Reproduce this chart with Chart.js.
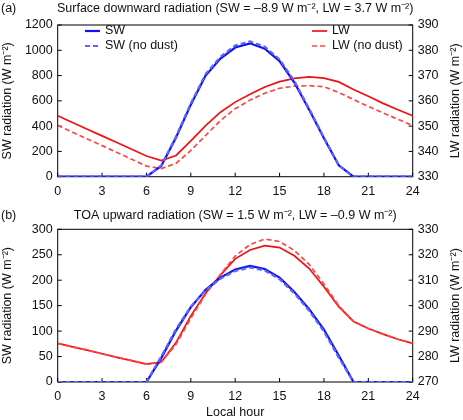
<!DOCTYPE html>
<html><head><meta charset="utf-8">
<script src="https://cdn.jsdelivr.net/npm/chart.js@4"></script>
<style>
html,body{margin:0;padding:0;background:#fff;overflow:hidden}
#c1{position:absolute;left:0;top:0}
#c2{position:absolute;left:0;top:200px}
</style></head><body>
<canvas id="c1" width="463" height="200"></canvas>
<canvas id="c2" width="463" height="220"></canvas>
<script>
const hours = [0,1,2,3,4,5,6,7,8,9,10,11,12,13,14,15,16,17,18,19,20,21,22,23,24];
// (a) Surface downward radiation
const sfcSW       = [0,0,0,0,0,0,0,85,310,570,800,935,1022,1055,1012,915,745,530,305,90,0,0,0,0,0];
const sfcSWnoDust = [0,0,0,0,0,0,0,88,318,580,812,948,1038,1070,1028,928,756,538,310,92,0,0,0,0,0];
const sfcLW       = [354.1,351.45,348.8,346.15,343.5,340.85,338.2,336.4,338.4,344.2,350.2,355.5,359.5,362.6,365.5,367.6,368.9,369.5,369.0,367.5,364.5,361.8,359.0,356.5,354.1];
const sfcLWnoDust = [350.3,347.6,344.9,342.3,339.6,336.9,334.2,333.2,335.3,340.4,346.3,352.2,356.9,360.3,363.0,365.0,365.8,366.0,365.6,363.3,360.5,357.8,355.2,352.7,350.2];
// (b) TOA upward radiation
const toaSW       = [0,0,0,0,0,0,0,47,101,147,181,205,221,228,222,205,177,143,103,52,0,0,0,0,0];
const toaSWnoDust = [0,0,0,0,0,0,0,50,104,148,180,203,218,225,219,202,174,140,99,48,0,0,0,0,0];
const toaLW       = [285.2,283.8,282.5,281.1,279.7,278.4,277.0,277.8,285.5,296.0,304.9,312.0,318.4,321.9,323.6,322.8,319.6,314.6,307.4,299.6,293.8,291.0,288.8,286.8,285.2];
const toaLWnoDust = [285.2,283.8,282.5,281.1,279.7,278.4,277.0,277.8,284.8,295.0,304.5,312.2,319.5,324.0,326.2,325.2,321.7,316.2,308.5,300.0,293.8,291.0,288.8,286.8,285.2];

const hourTicks = [0,3,6,9,12,15,18,21,24];
const sfcSWTicks = [0,200,400,600,800,1000,1200];
const sfcLWTicks = [330,340,350,360,370,380,390];
const toaSWTicks = [0,50,100,150,200,250,300];
const toaLWTicks = [270,280,290,300,310,320,330];

const legendLabels = ['SW','SW (no dust)','LW','LW (no dust)'];

const BLUE='#1212ee', BLUE_D='#5a66ff', RED='#f01212', RED_D='#ff4646';
const FONT='"Liberation Sans", Arial, Helvetica, sans-serif';
const FS=12.5;

function pts(arr){ return hours.map((h,i)=>({x:h,y:arr[i]})); }

function ds(label, arr, color, dashed, axis, width){
  return {label, data:pts(arr), borderColor:color, backgroundColor:color,
    borderWidth:width, borderDash: dashed?[5,3]:[], pointRadius:0, tension:0,
    yAxisID:axis, fill:false};
}

function decor(cfg){
  return {
    id:'decor',
    beforeDatasetsDraw(chart){
      const {ctx, chartArea:a, scales} = chart;
      ctx.save();
      ctx.strokeStyle='#000'; ctx.lineWidth=1;
      ctx.strokeRect(a.left, a.top, a.right-a.left, a.bottom-a.top);
      ctx.beginPath();
      scales.x.ticks.forEach(t=>{const p=scales.x.getPixelForValue(t.value); ctx.moveTo(p,a.bottom); ctx.lineTo(p,a.bottom-4);});
      scales.y.ticks.forEach(t=>{const p=scales.y.getPixelForValue(t.value); ctx.moveTo(a.left,p); ctx.lineTo(a.left+4,p);});
      scales.y1.ticks.forEach(t=>{const p=scales.y1.getPixelForValue(t.value); ctx.moveTo(a.right,p); ctx.lineTo(a.right-4,p);});
      ctx.stroke();
      ctx.restore();
    },
    afterDraw(chart){
      const {ctx, chartArea:a} = chart;
      ctx.save();
      ctx.fillStyle='#111';
      ctx.font=FS+'px '+FONT;
      ctx.textBaseline='middle';
      ctx.textAlign='left';
      ctx.fillText(cfg.panel, 1, cfg.titleY);
      ctx.textAlign='center';
      ctx.fillText(cfg.title, (a.left+a.right)/2+cfg.titleDX, cfg.titleY);
      const mid=(a.top+a.bottom)/2;
      ctx.save(); ctx.translate(8, mid); ctx.rotate(-Math.PI/2); ctx.fillText(cfg.leftTitle,0,0); ctx.restore();
      ctx.save(); ctx.translate(456, mid); ctx.rotate(-Math.PI/2); ctx.fillText(cfg.rightTitle,0,0); ctx.restore();
      if(cfg.xTitle){ ctx.fillText(cfg.xTitle, (a.left+a.right)/2, cfg.xTitleY); }
      if(cfg.legend){
        const items=[
          {x:85,y:31,c:BLUE,d:false,w:2.2,t:legendLabels[0]},
          {x:85,y:46,c:BLUE_D,d:true,w:2.2,t:legendLabels[1]},
          {x:312,y:31,c:RED,d:false,w:1.7,t:legendLabels[2]},
          {x:312,y:46,c:RED_D,d:true,w:1.7,t:legendLabels[3]}];
        items.forEach(it=>{
          ctx.save(); ctx.strokeStyle=it.c; ctx.lineWidth=it.w; ctx.setLineDash(it.d?[5,3]:[]);
          ctx.beginPath(); ctx.moveTo(it.x,it.y); ctx.lineTo(it.x+15,it.y); ctx.stroke(); ctx.restore();
          ctx.textAlign='left'; ctx.fillStyle='#111'; ctx.fillText(it.t, it.x+20, it.y);
        });
      }
      ctx.restore();
    }
  };
}

const plain = v => String(v);

function makeChart(id, sets, yMin, yMax, y1Min, y1Max, padTop, xHeight, cfg){
  return new Chart(document.getElementById(id), {
    type:'line',
    data:{datasets:sets},
    options:{
      responsive:false, animation:false,
      layout:{padding:{top:padTop,left:0,right:0,bottom:0}},
      plugins:{legend:{display:false}, tooltip:{enabled:false}, title:{display:false}},
      scales:{
        x:{type:'linear', min:0, max:24,
          afterBuildTicks(s){ s.ticks = hourTicks.map(v=>({value:v})); },
          ticks:{color:'#111', font:{family:FONT,size:FS}, padding:7, maxRotation:0, autoSkip:false, callback:plain},
          grid:{display:false, drawTicks:false}, border:{display:false},
          afterFit(s){ s.height = xHeight; }},
        y:{position:'left', min:yMin, max:yMax,
          afterBuildTicks(s){ s.ticks = cfg.yTicks.map(v=>({value:v})); },
          ticks:{color:'#111', font:{family:FONT,size:FS}, padding:5, callback:plain},
          grid:{display:false, drawTicks:false}, border:{display:false},
          afterFit(s){ s.width = 57.7; }},
        y1:{position:'right', min:y1Min, max:y1Max,
          afterBuildTicks(s){ s.ticks = cfg.y1Ticks.map(v=>({value:v})); },
          ticks:{color:'#111', font:{family:FONT,size:FS}, padding:5, callback:plain},
          grid:{display:false, drawTicks:false}, border:{display:false},
          afterFit(s){ s.width = 50.3; }}
      }
    },
    plugins:[decor(cfg)]
  });
}

makeChart('c1', [
    ds(legendLabels[1], sfcSWnoDust, BLUE_D, true, 'y', 2.2),
    ds(legendLabels[0], sfcSW, BLUE, false, 'y', 2.2),
    ds(legendLabels[3], sfcLWnoDust, RED_D, true, 'y1', 1.7),
    ds(legendLabels[2], sfcLW, RED, false, 'y1', 1.7)
  ], 0, 1200, 330, 390, 25, 23.3,
  {panel:'(a)', title:'Surface downward radiation (SW = –8.9 W m⁻², LW = 3.7 W m⁻²)', titleY:9, titleDX:0,
   leftTitle:'SW radiation (W m⁻²)', rightTitle:'LW radiation (W m⁻²)', legend:true,
   yTicks:sfcSWTicks, y1Ticks:sfcLWTicks});

makeChart('c2', [
    ds(legendLabels[1], toaSWnoDust, BLUE_D, true, 'y', 2.2),
    ds(legendLabels[0], toaSW, BLUE, false, 'y', 2.2),
    ds(legendLabels[3], toaLWnoDust, RED_D, true, 'y1', 1.7),
    ds(legendLabels[2], toaLW, RED, false, 'y1', 1.7)
  ], 0, 300, 270, 330, 29.3, 38,
  {panel:'(b)', title:'TOA upward radiation (SW = 1.5 W m⁻², LW = –0.9 W m⁻²)', titleY:16, titleDX:0,
   leftTitle:'SW radiation (W m⁻²)', rightTitle:'LW radiation (W m⁻²)', legend:false,
   xTitle:'Local hour', xTitleY:213,
   yTicks:toaSWTicks, y1Ticks:toaLWTicks});
</script>
</body></html>
